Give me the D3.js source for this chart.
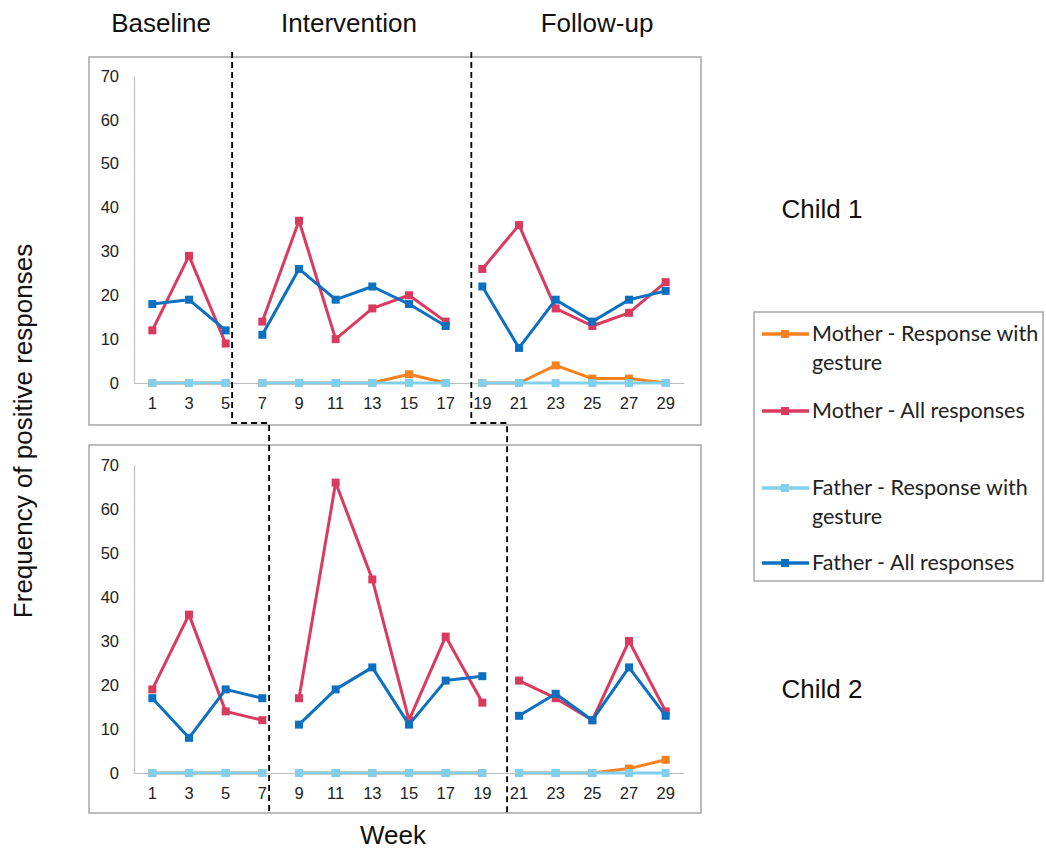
<!DOCTYPE html>
<html>
<head>
<meta charset="utf-8">
<script src="https://cdn.jsdelivr.net/npm/d3@7"></script>
<style>
  html, body { margin: 0; padding: 0; background: #fff; }
  svg { display: block; }
</style>
</head>
<body>
<svg id="chart" width="1046" height="850"></svg>
<script>
// Weeks shown on the x axis (every second week)
const weeks = [1, 3, 5, 7, 9, 11, 13, 15, 17, 19, 21, 23, 25, 27, 29];
const yTicks = [0, 10, 20, 30, 40, 50, 60, 70];
const phaseNames = ["Baseline", "Intervention", "Follow-up"];

// Last week of baseline and of intervention for each child
const child1PhaseEnds = [5, 17];
const child2PhaseEnds = [7, 19];

// Child 1
const c1MotherGesture = [0, 0, 0, 0, 0, 0, 0, 2, 0, 0, 0, 4, 1, 1, 0];
const c1MotherAll     = [12, 29, 9, 14, 37, 10, 17, 20, 14, 26, 36, 17, 13, 16, 23];
const c1FatherGesture = [0, 0, 0, 0, 0, 0, 0, 0, 0, 0, 0, 0, 0, 0, 0];
const c1FatherAll     = [18, 19, 12, 11, 26, 19, 22, 18, 13, 22, 8, 19, 14, 19, 21];

// Child 2
const c2MotherGesture = [0, 0, 0, 0, 0, 0, 0, 0, 0, 0, 0, 0, 0, 1, 3];
const c2MotherAll     = [19, 36, 14, 12, 17, 66, 44, 12, 31, 16, 21, 17, 12, 30, 14];
const c2FatherGesture = [0, 0, 0, 0, 0, 0, 0, 0, 0, 0, 0, 0, 0, 0, 0];
const c2FatherAll     = [17, 8, 19, 17, 11, 19, 24, 11, 21, 22, 13, 18, 12, 24, 13];

const seriesNames = [
  "Mother - Response with gesture",
  "Mother - All responses",
  "Father - Response with gesture",
  "Father - All responses"
];
const seriesColors = ["#F7811E", "#DB3A5F", "#80CFEF", "#0B70BF"];

const svg = d3.select("#chart");
const font = "'Liberation Sans', Arial, sans-serif";
const titleSize = 26;

// Shared x scale: one band per plotted week
const x = d3.scaleBand().domain(weeks).range([134, 684]).padding(0);
const cx = w => x(w) + x.bandwidth() / 2;
// Continuous week position, used for the phase dividers
const xw = d3.scaleLinear().domain([1, 29]).range([cx(1), cx(29)]);

const panels = [
  { box: [89, 57, 701, 425], yRange: [383, 76], ends: child1PhaseEnds,
    data: [c1MotherGesture, c1MotherAll, c1FatherGesture, c1FatherAll],
    label: "Child 1", labelY: 209, dividers: [5.35, 18.4] },
  { box: [89, 445, 701, 813], yRange: [773, 465], ends: child2PhaseEnds,
    data: [c2MotherGesture, c2MotherAll, c2FatherGesture, c2FatherAll],
    label: "Child 2", labelY: 689, dividers: [7.37, 20.35] }
];

panels.forEach(p => {
  const [bx0, by0, bx1, by1] = p.box;
  const g = svg.append("g");

  g.append("rect")
    .attr("x", bx0).attr("y", by0)
    .attr("width", bx1 - bx0).attr("height", by1 - by0)
    .attr("fill", "#fff").attr("stroke", "#A6A6A6").attr("stroke-width", 1.5);

  const y = d3.scaleLinear().domain([0, 70]).range(p.yRange);

  const yAxis = g.append("g")
    .attr("transform", `translate(${x.range()[0]},0)`)
    .call(d3.axisLeft(y).tickValues(yTicks).tickSize(0).tickPadding(15));
  yAxis.select(".domain").attr("stroke", "#BFBFBF").attr("stroke-width", 1.2);
  yAxis.selectAll("text").attr("font-family", font).attr("font-size", 16.5).attr("fill", "#222");

  const xAxis = g.append("g")
    .attr("transform", `translate(0,${y(0)})`)
    .call(d3.axisBottom(x).tickSize(0).tickPadding(14));
  xAxis.select(".domain").attr("stroke", "#BFBFBF").attr("stroke-width", 1.2);
  xAxis.selectAll("text").attr("font-family", font).attr("font-size", 16.5).attr("fill", "#222");

  // Split the weeks into baseline / intervention / follow-up segments
  const phaseOf = w => (w <= p.ends[0] ? 0 : w <= p.ends[1] ? 1 : 2);
  const line = d3.line().x(d => cx(d.w)).y(d => y(d.v));

  p.data.forEach((vals, si) => {
    const pts = weeks.map((w, i) => ({ w, v: vals[i], ph: phaseOf(w) }));
    const sg = g.append("g");
    [0, 1, 2].forEach(ph => {
      const seg = pts.filter(d => d.ph === ph);
      sg.append("path")
        .attr("d", line(seg))
        .attr("fill", "none")
        .attr("stroke", seriesColors[si])
        .attr("stroke-width", 3)
        .attr("stroke-linejoin", "round");
    });
    sg.selectAll("rect.mk").data(pts).join("rect")
      .attr("class", "mk")
      .attr("x", d => cx(d.w) - 4).attr("y", d => y(d.v) - 4)
      .attr("width", 8).attr("height", 8)
      .attr("fill", seriesColors[si]);
  });

  svg.append("text")
    .attr("x", 822).attr("y", p.labelY)
    .attr("text-anchor", "middle").attr("dominant-baseline", "central")
    .attr("font-family", font).attr("font-size", titleSize).attr("fill", "#111")
    .text(p.label);
});

// Phase dividers: dashed lines running through both panels with a step between them
const topDiv = panels[0].dividers, botDiv = panels[1].dividers;
for (let k = 0; k < 2; k++) {
  const xa = xw(topDiv[k]), xb = xw(botDiv[k]);
  const path = d3.path();
  path.moveTo(xa, 52);
  path.lineTo(xa, 423);
  path.lineTo(xb, 423);
  path.lineTo(xb, 813);
  svg.append("path").attr("d", path.toString())
    .attr("fill", "none").attr("stroke", "#000")
    .attr("stroke-width", 1.8).attr("stroke-dasharray", "6,4");
}

// Phase headings
const headX = [161, 349, 597];
phaseNames.forEach((n, i) => {
  svg.append("text")
    .attr("x", headX[i]).attr("y", 32)
    .attr("text-anchor", "middle")
    .attr("font-family", font).attr("font-size", titleSize).attr("fill", "#111")
    .text(n);
});

// Axis titles
svg.append("text")
  .attr("transform", "translate(32,431) rotate(-90)")
  .attr("text-anchor", "middle")
  .attr("font-family", font).attr("font-size", titleSize).attr("fill", "#111")
  .text("Frequency of positive responses");

svg.append("text")
  .attr("x", 393).attr("y", 844)
  .attr("text-anchor", "middle")
  .attr("font-family", font).attr("font-size", titleSize).attr("fill", "#111")
  .text("Week");

// Legend
const lg = svg.append("g");
lg.append("rect")
  .attr("x", 754).attr("y", 312).attr("width", 289).attr("height", 269)
  .attr("fill", "#fff").attr("stroke", "#A6A6A6").attr("stroke-width", 1.5);

const legendLines = [
  ["Mother - Response with", "gesture"],
  ["Mother - All responses"],
  ["Father - Response with", "gesture"],
  ["Father - All responses"]
];
const legendY = [334, 411, 488, 563];
const legendFont = "Lato, 'Open Sans', sans-serif";
seriesNames.forEach((name, i) => {
  const yy = legendY[i];
  lg.append("line")
    .attr("x1", 762).attr("x2", 809).attr("y1", yy).attr("y2", yy)
    .attr("stroke", seriesColors[i]).attr("stroke-width", 3.5);
  lg.append("rect")
    .attr("x", 781).attr("y", yy - 4).attr("width", 8).attr("height", 8)
    .attr("fill", seriesColors[i]);
  const t = lg.append("text")
    .attr("font-family", legendFont).attr("font-size", 21.5).attr("fill", "#222");
  legendLines[i].forEach((s, j) => {
    t.append("tspan").attr("x", 812).attr("y", yy + 7 + j * 29).text(s);
  });
});
</script>
</body>
</html>
